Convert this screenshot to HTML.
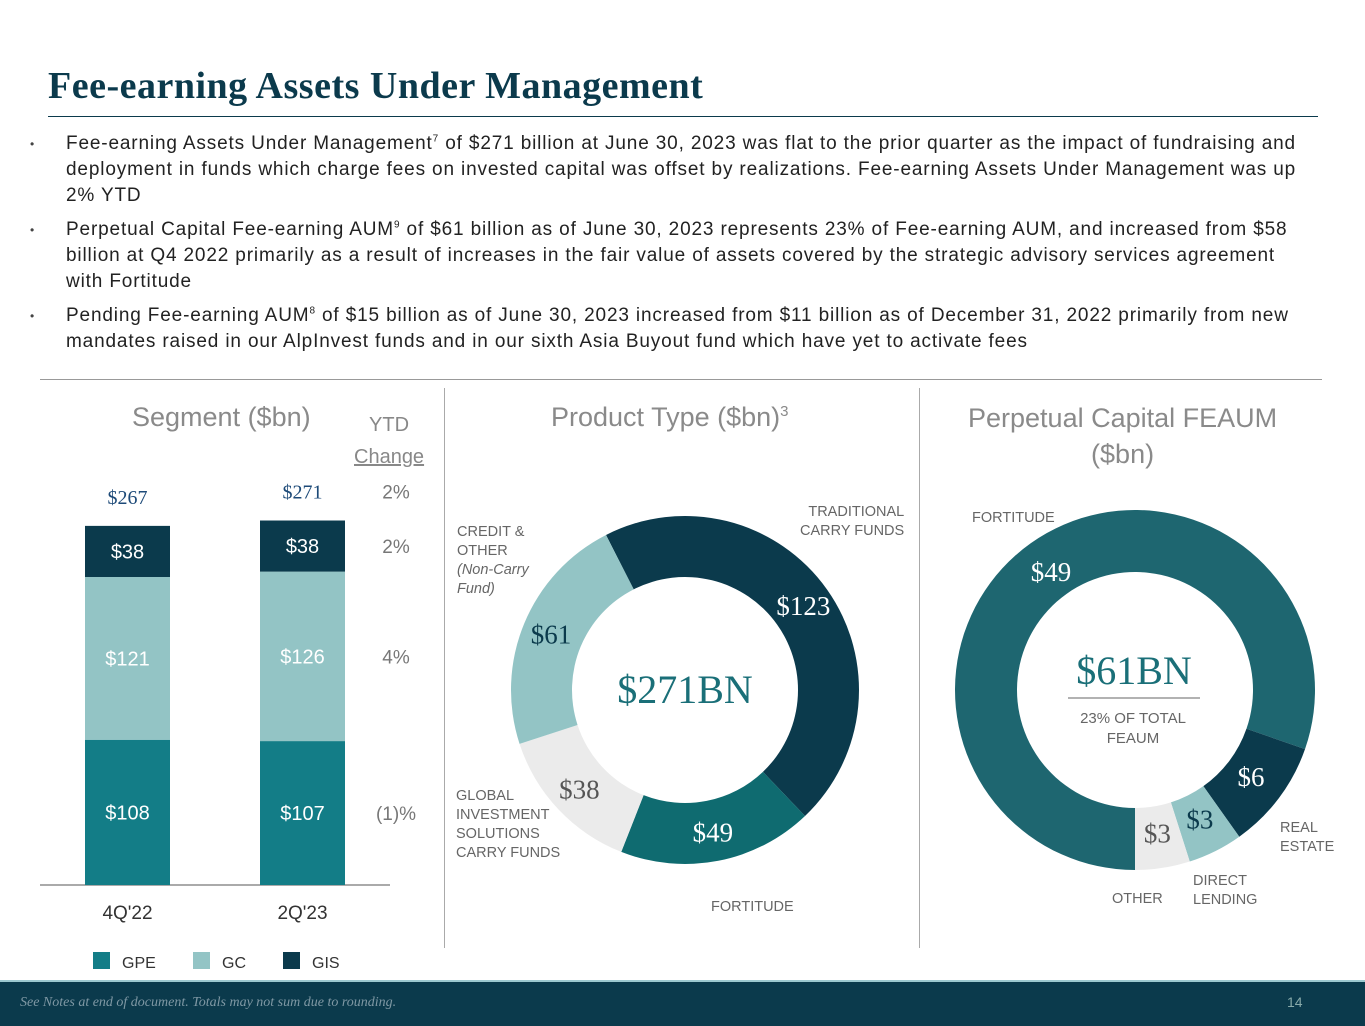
<!DOCTYPE html>
<html><head><meta charset="utf-8"><style>
body{margin:0;width:1365px;height:1024px;position:relative;background:#fff;font-family:"Liberation Sans",sans-serif;overflow:hidden}
.t{position:absolute;white-space:nowrap}
h1{position:absolute;left:48px;top:64px;margin:0;font-family:"Liberation Serif",serif;font-size:38px;font-weight:bold;color:#0b3a4c;letter-spacing:0.5px}
ul{position:absolute;left:30px;top:131px;width:1250px;margin:0;padding:0 0 0 36px;font-size:19px;line-height:26px;color:#222;letter-spacing:0.85px;list-style:none}
li{margin-bottom:8px;position:relative}
li:before{content:"•";position:absolute;left:-36px;font-size:12px;color:#444}
sup{font-size:10px;line-height:0}
.hd{font-size:27px;color:#8a8a8a}
.lbl{font-size:14.5px;color:#666;line-height:19px}
</style></head><body>
<h1>Fee-earning Assets Under Management</h1>
<div style="position:absolute;left:48px;top:116px;width:1270px;height:1px;background:#0b3a4c"></div>
<ul>
<li>Fee-earning Assets Under Management<sup>7</sup> of $271 billion at June 30, 2023 was flat to the prior quarter as the impact of fundraising and deployment in funds which charge fees on invested capital was offset by realizations. Fee-earning Assets Under Management was up 2% YTD</li>
<li>Perpetual Capital Fee-earning AUM<sup>9</sup> of $61 billion as of June 30, 2023 represents 23% of Fee-earning AUM, and increased from $58 billion at Q4 2022 primarily as a result of increases in the fair value of assets covered by the strategic advisory services agreement with Fortitude</li>
<li>Pending Fee-earning AUM<sup>8</sup> of $15 billion as of June 30, 2023 increased from $11 billion as of December 31, 2022 primarily from new mandates raised in our AlpInvest funds and in our sixth Asia Buyout fund which have yet to activate fees</li>
</ul>
<div style="position:absolute;left:40px;top:379px;width:1282px;height:1px;background:#999"></div>
<div style="position:absolute;left:444px;top:388px;width:1px;height:560px;background:#aaa"></div>
<div style="position:absolute;left:919px;top:388px;width:1px;height:560px;background:#aaa"></div>

<div class="t hd" style="left:132px;top:402px">Segment ($bn)</div>
<div class="t" style="left:354px;top:409px;font-size:20px;color:#888;text-align:center;line-height:32px">YTD<br><u>Change</u></div>
<div class="t hd" style="left:551px;top:402px">Product Type ($bn)<sup style="font-size:15px">3</sup></div>
<div class="t hd" style="left:968px;top:400px;text-align:center;line-height:36px">Perpetual Capital FEAUM<br>($bn)</div>

<svg id="bars" width="445" height="990" style="position:absolute;left:0;top:0"></svg>
<svg id="d1" width="1365" height="1024" style="position:absolute;left:0;top:0;pointer-events:none"></svg>

<div class="t lbl" style="left:457px;top:523px">CREDIT &amp;<br>OTHER<br><i>(Non-Carry<br>Fund)</i></div>
<div class="t lbl" style="left:800px;top:503px;text-align:right">TRADITIONAL<br>CARRY FUNDS</div>
<div class="t lbl" style="left:456px;top:787px">GLOBAL<br>INVESTMENT<br>SOLUTIONS<br>CARRY FUNDS</div>
<div class="t lbl" style="left:711px;top:898px">FORTITUDE</div>
<div class="t lbl" style="left:972px;top:509px">FORTITUDE</div>
<div class="t lbl" style="left:1280px;top:819px">REAL<br>ESTATE</div>
<div class="t lbl" style="left:1193px;top:872px">DIRECT<br>LENDING</div>
<div class="t lbl" style="left:1112px;top:890px">OTHER</div>

<div style="position:absolute;left:0;top:980px;width:1365px;height:44px;background:#0b3a4c;border-top:2px solid #9cc8cf">
<div class="t" style="left:20px;top:13px;font-family:'Liberation Serif',serif;font-style:italic;font-size:14px;color:#7f98a4">See Notes at end of document. Totals may not sum due to rounding.</div>
<div class="t" style="left:1287px;top:12px;font-size:14px;color:#8aa">14</div>
</div>

<script>
const NS='http://www.w3.org/2000/svg';
function mk(p,tag,a,txt){const e=document.createElementNS(NS,tag);for(const k in a)e.setAttribute(k,a[k]);if(txt!=null)e.textContent=txt;p.appendChild(e);return e;}
// bar chart data
const periods=['4Q\'22','2Q\'23'];
const gpe=[108,107];
const gc=[121,126];
const gis=[38,38];
const totals=['$267','$271'];
const ytd=['2%','2%','4%','(1)%'];
const segColors=['#137d87','#93c4c5','#0b3a4c'];
const bars=document.getElementById('bars');
const base=885,scale=1.345,bw=85,bx=[85,260];
const y=v=>base-v*scale;
mk(bars,'line',{x1:40,x2:390,y1:base,y2:base,stroke:'#555','stroke-width':1});
const ser=[gpe,gc,gis];
const ytdY=[];
periods.forEach((p,i)=>{
 let acc=0;
 ser.forEach((s,j)=>{
  const r=mk(bars,'rect',{x:bx[i],y:y(acc+s[i]),width:bw,height:s[i]*scale,fill:segColors[j]});
  
  
  const t=mk(bars,'text',{x:bx[i]+bw/2,y:y(acc+s[i]/2)+7,'text-anchor':'middle','font-size':20,fill:'#fff','font-family':'Liberation Sans'},'$'+s[i]);
  
  
  if(i===1)ytdY.push(y(acc+s[i]/2)+7);
  acc+=s[i];
 });
 const tt=mk(bars,'text',{x:bx[i]+bw/2,y:y(acc)-22,'text-anchor':'middle','font-size':20,fill:'#1d4a78','font-family':'Liberation Serif'},totals[i]);
 
 
 if(i===1)ytdY.push(y(acc)-22);
 const xl=mk(bars,'text',{x:bx[i]+bw/2,y:919,'text-anchor':'middle','font-size':19,fill:'#333'},p);
 
 
});
const yOrder=[ytdY[3],ytdY[2],ytdY[1],ytdY[0]];
ytd.forEach((v,k)=>{
 const t=mk(bars,'text',{x:396,y:yOrder[k],'text-anchor':'middle','font-size':19,fill:'#777'},v);
 
 
});
['GPE','GC','GIS'].forEach((n,j)=>{
 const lx=[93,193,283][j];
 mk(bars,'rect',{x:lx,y:952,width:17,height:17,fill:segColors[j]});
 const t=mk(bars,'text',{x:lx+29,y:968,'font-size':16,fill:'#333'},n);
 
 
});
// donuts
const prodLabels=['Traditional','Fortitude','GIS','Credit'];
const prodValues=[123,49,38,61];
const prodColors=['#0b3a4c','#0f6b70','#ebebeb','#93c4c5'];
const prodTextColors=['#fff','#fff','#555','#0b3a4c'];
const perpLabels=['Fortitude','Real Estate','Direct Lending','Other'];
const perpValues=[49,6,3,3];
const perpColors=['#1e6670','#0b3a4c','#93c4c5','#ebebeb'];
const perpTextColors=['#fff','#fff','#0b3a4c','#555'];
const d1=document.getElementById('d1');
function pt(cx,cy,r,a){const t=(a-90)*Math.PI/180;return [cx+r*Math.cos(t),cy+r*Math.sin(t)];}
function donut(cx,cy,R,r,start,vals,cols,tcols,names,lr){
 const tot=vals.reduce((a,b)=>a+b,0);let a=start;
 vals.forEach((v,i)=>{
  const sw=v/tot*360,a2=a+sw,lg=sw>180?1:0;
  const [x1,y1]=pt(cx,cy,R,a),[x2,y2]=pt(cx,cy,R,a2),[x3,y3]=pt(cx,cy,r,a2),[x4,y4]=pt(cx,cy,r,a);
  const p=mk(d1,'path',{d:`M${x1},${y1}A${R},${R} 0 ${lg} 1 ${x2},${y2}L${x3},${y3}A${r},${r} 0 ${lg} 0 ${x4},${y4}Z`,fill:cols[i]});
  
  
  const m=a+sw/2;const [tx,ty]=pt(cx,cy,lr,m);
  const t=mk(d1,'text',{x:tx,y:ty+9,'text-anchor':'middle','font-size':27,fill:tcols[i],'font-family':'Liberation Serif'},'$'+v);
  
  
  a=a2;
 });
}
donut(685,690,174,113,-27,prodValues,prodColors,prodTextColors,prodLabels,145);
donut(1135,690,180,118,180,perpValues,perpColors,perpTextColors,perpLabels,145);
let c=mk(d1,'text',{x:685,y:703,'text-anchor':'middle','font-size':40,fill:'#1a6f78','font-family':'Liberation Serif'},'$271BN');

c=mk(d1,'text',{x:1134,y:684,'text-anchor':'middle','font-size':40,fill:'#1a6f78','font-family':'Liberation Serif'},'$61BN');

mk(d1,'line',{x1:1068,x2:1200,y1:698,y2:698,stroke:'#999','stroke-width':1.5});
mk(d1,'text',{x:1133,y:723,'text-anchor':'middle','font-size':15,fill:'#666'},'23% OF TOTAL');
mk(d1,'text',{x:1133,y:743,'text-anchor':'middle','font-size':15,fill:'#666'},'FEAUM');
</script>
</body></html>
